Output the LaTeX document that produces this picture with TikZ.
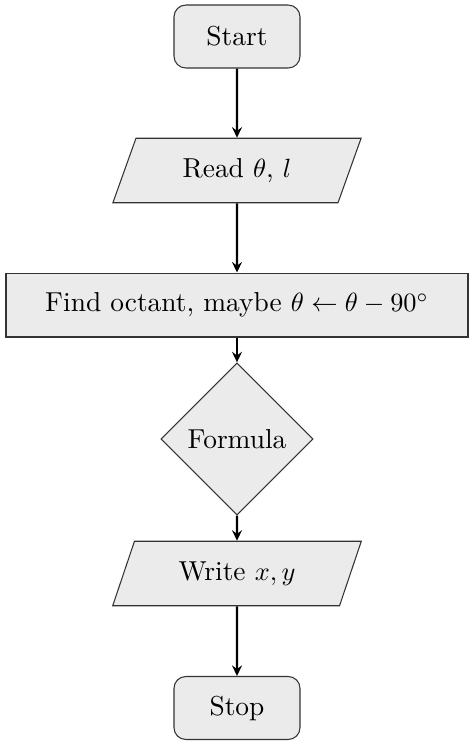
\documentclass[tikz,border=0pt]{standalone}
\usepackage{amsmath,amssymb}
\usetikzlibrary{shapes.geometric,arrows.meta}
\begin{document}
\begin{tikzpicture}[font=\fontsize{10.4}{12.5}\selectfont,box/.style={draw=black!80,fill=black!8,thin},
term/.style={box,rectangle,rounded corners=4.5pt,minimum width=1.68cm,minimum height=.84cm},
io/.style={box,trapezium,trapezium left angle=71,trapezium right angle=109,trapezium stretches=true,minimum width=3.33cm,minimum height=.86cm},
flow/.style={-{Stealth[length=4pt,width=3.8pt,inset=1.4pt]},thick}]
\useasboundingbox(0,0)rectangle(6.293,9.92);
\node[term](start)at(3.16,9.433){Start};
\node[io](read)at(3.16,7.647){Read $\theta$, $l$};
\node[box,rectangle,minimum width=6.16cm,minimum height=.853cm](oct)at(3.16,5.853){Find octant, maybe $\theta\leftarrow\theta-90^\circ$};
\node[box,diamond,minimum width=2.03cm,minimum height=2.03cm,inner sep=1pt](form)at(3.16,4.067){Formula};
\node[io](write)at(3.16,2.273){Write $x,y$};
\node[term](stop)at(3.16,.48){Stop};
\draw[flow](start)--(read);\draw[flow](read)--(oct);\draw[flow](oct)--(form);
\draw[flow](form)--(write);\draw[flow](write)--(stop);
\end{tikzpicture}
\end{document}
